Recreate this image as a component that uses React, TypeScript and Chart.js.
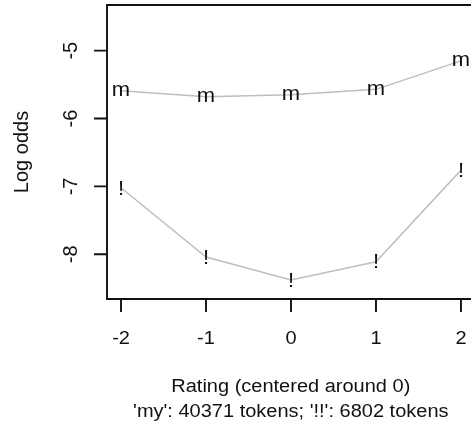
import React, { useEffect, useRef } from "react";
import { Chart, registerables } from "chart.js";

Chart.register(...registerables);

const ratings = [-2, -1, 0, 1, 2];
const myLogOdds = [-5.59, -5.68, -5.65, -5.57, -5.15];
const bangLogOdds = [-7.02, -8.04, -8.38, -8.11, -6.76];
const xTicks = [-2, -1, 0, 1, 2];
const yTicks = [-5, -6, -7, -8];
const markerMy = "m";
const markerBang = "!";
const xTitle = "Rating (centered around 0)";
const xSubtitle = "'my': 40371 tokens; '!!': 6802 tokens";
const yTitle = "Log odds";

const FONT = '20px "Liberation Sans", Arial, Helvetica, sans-serif';
const MARKER_FONT = '22px "Liberation Sans", Arial, Helvetica, sans-serif';
const SY = 0.88;
const INK = "#111111";
const LINE = "#bebebe";

const rPlotPlugin = {
  id: "rPlot",
  afterDatasetsDraw(chart: any) {
    const ctx = chart.ctx;
    ctx.save();
    ctx.fillStyle = INK;
    ctx.font = MARKER_FONT;
    ctx.textAlign = "center";
    ctx.textBaseline = "alphabetic";
    chart.data.datasets.forEach((ds: any, i: number) => {
      const meta = chart.getDatasetMeta(i);
      const glyph = ds.marker as string;
      const m = ctx.measureText(glyph);
      const asc = m.actualBoundingBoxAscent;
      const desc = m.actualBoundingBoxDescent;
      meta.data.forEach((pt: any) => {
        ctx.save();
        ctx.translate(pt.x, pt.y);
        ctx.scale(1, 0.9);
        ctx.fillText(glyph, 0, (asc - desc) / 2);
        ctx.restore();
      });
    });
    ctx.restore();
  },
  afterDraw(chart: any) {
    const ctx = chart.ctx;
    const a = chart.chartArea;
    const xs = chart.scales.x;
    const ys = chart.scales.y;
    ctx.save();
    ctx.strokeStyle = INK;
    ctx.lineWidth = 1.9;
    // box (right edge falls outside the picture)
    ctx.beginPath();
    ctx.moveTo(a.right + 10, a.top);
    ctx.lineTo(a.left, a.top);
    ctx.lineTo(a.left, a.bottom);
    ctx.lineTo(a.right + 10, a.bottom);
    ctx.stroke();
    // ticks
    ctx.beginPath();
    yTicks.forEach((v) => {
      const y = ys.getPixelForValue(v);
      ctx.moveTo(a.left, y);
      ctx.lineTo(a.left - 13, y);
    });
    xTicks.forEach((v) => {
      const x = xs.getPixelForValue(v);
      ctx.moveTo(x, a.bottom);
      ctx.lineTo(x, a.bottom + 13);
    });
    ctx.stroke();

    ctx.fillStyle = INK;
    ctx.font = FONT;
    ctx.textAlign = "center";
    ctx.textBaseline = "alphabetic";
    const capH = ctx.measureText("5").actualBoundingBoxAscent;
    // x tick labels
    xTicks.forEach((v) => {
      const x = xs.getPixelForValue(v);
      ctx.save();
      ctx.translate(x, a.bottom + 45);
      ctx.scale(1, SY);
      ctx.fillText(String(v), 0, 0);
      ctx.restore();
    });
    // y tick labels (rotated)
    yTicks.forEach((v) => {
      const y = ys.getPixelForValue(v);
      ctx.save();
      ctx.translate(70, y);
      ctx.rotate(-Math.PI / 2);
      ctx.fillText(String(v), 0, capH / 2);
      ctx.restore();
    });
    // axis titles
    const cx = (a.left + a.right + 3.6) / 2;
    [xTitle, xSubtitle].forEach((t, i) => {
      ctx.save();
      ctx.translate(cx, i === 0 ? 391.5 : 417);
      ctx.scale(1, SY);
      ctx.fillText(t, 0, 0);
      ctx.restore();
    });
    ctx.save();
    ctx.translate(28, (a.top + a.bottom) / 2);
    ctx.rotate(-Math.PI / 2);
    ctx.fillText(yTitle, 0, 0);
    ctx.restore();
    ctx.restore();
  },
};

export default function App() {
  const ref = useRef<HTMLCanvasElement | null>(null);
  useEffect(() => {
    if (!ref.current) return;
    const chart = new Chart(ref.current, {
      type: "scatter",
      data: {
        datasets: [
          {
            label: "my",
            marker: markerMy,
            data: ratings.map((r, i) => ({ x: r, y: myLogOdds[i] })),
            showLine: true,
            borderColor: LINE,
            borderWidth: 1.5,
            pointRadius: 0,
            fill: false,
          } as any,
          {
            label: "!!",
            marker: markerBang,
            data: ratings.map((r, i) => ({ x: r, y: bangLogOdds[i] })),
            showLine: true,
            borderColor: LINE,
            borderWidth: 1.5,
            pointRadius: 0,
            fill: false,
          } as any,
        ],
      },
      options: {
        animation: false,
        responsive: false,
        layout: { padding: { left: 107, top: 5, right: 0, bottom: 124 } },
        scales: {
          x: { type: "linear", min: -2.165, max: 2.118, display: false },
          y: { type: "linear", min: -8.659, max: -4.327, display: false },
        },
        plugins: { legend: { display: false }, tooltip: { enabled: false } },
        events: [],
      },
      plugins: [rPlotPlugin],
    });
    return () => chart.destroy();
  }, []);
  return (
    <div style={{ position: "fixed", left: 0, top: 0, width: 471, height: 423, background: "#fff" }}>
      <canvas ref={ref} width={471} height={423} style={{ display: "block" }} />
    </div>
  );
}
